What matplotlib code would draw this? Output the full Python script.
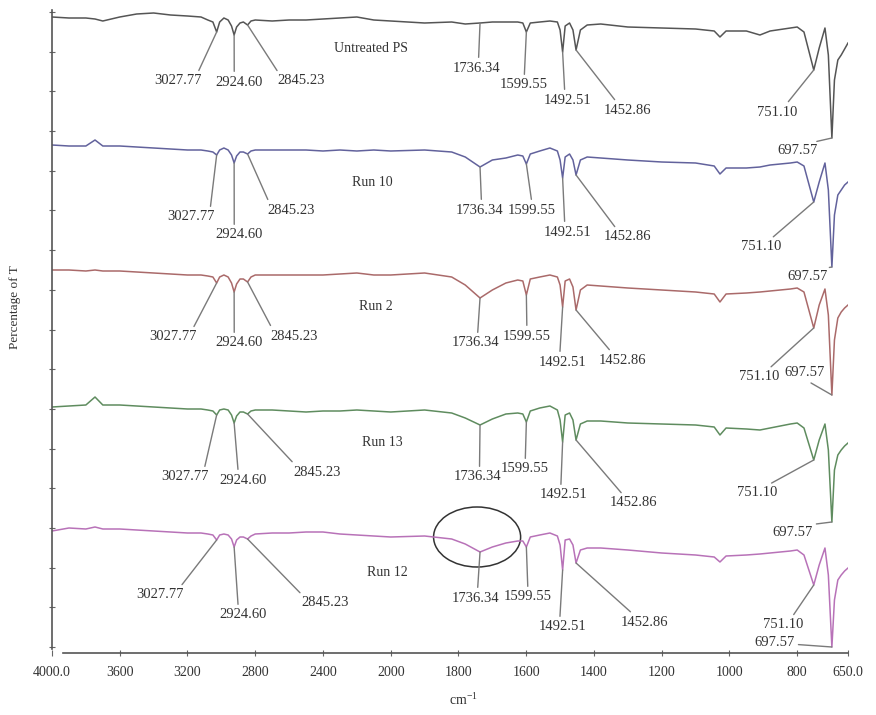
import matplotlib
matplotlib.use('Agg')
import matplotlib.pyplot as plt
from matplotlib.patches import Ellipse
import numpy as np

plt.rcParams['font.family'] = ['Liberation Serif', 'DejaVu Serif']

# ---- data (wavenumber in cm-1, T in arbitrary stacked units) ----
WAVENUMBER = [4000, 3900, 3800, 3746, 3700, 3600, 3500, 3400, 3300, 3200,
              3120, 3080, 3050, 3027.77, 3010, 2985, 2960, 2940, 2924.60, 2910,
              2890, 2870, 2845.23, 2825, 2800, 2700, 2600, 2500, 2400, 2300,
              2200, 2100, 2000, 1900, 1820, 1780, 1736.34, 1700, 1660, 1625,
              1610, 1599.55, 1588, 1560, 1530, 1508, 1500, 1492.51, 1485, 1472,
              1462, 1452.86, 1440, 1420, 1380, 1300, 1200, 1100, 1045, 1028,
              1010, 950, 910, 880, 820, 800, 780, 751.10, 735, 718,
              708, 697.57, 690, 680, 670, 660, 650]

T_UNTREATED = [636, 635, 635, 634, 632, 636, 639, 640, 638, 637,
               636, 633, 631, 621, 631, 635, 633, 627, 618, 626,
               630, 631, 628, 632, 633, 632, 633, 633, 634, 635,
               636, 633, 632, 630, 631, 629, 630, 631, 631, 631,
               630, 621, 630, 631, 632, 631, 623, 601, 627, 630,
               623, 603, 623, 628, 629, 626, 625, 624, 622, 616,
               622, 622, 618, 622, 625, 626, 621, 583, 605, 625,
               598, 515, 573, 593, 598, 604, 610]

T_RUN10 = [508, 507, 507, 513, 507, 507, 506, 505, 504, 503,
           503, 502, 501, 498, 503, 505, 503, 498, 490, 497,
           501, 501, 499, 502, 503, 503, 503, 503, 502, 503,
           502, 503, 502, 503, 501, 496, 486, 493, 495, 498,
           497, 489, 499, 502, 505, 502, 493, 475, 496, 499,
           493, 478, 493, 496, 495, 493, 491, 490, 487, 479,
           485, 485, 486, 488, 490, 491, 487, 451, 471, 490,
           463, 386, 438, 458, 463, 468, 471]

T_RUN2 = [383, 383, 382, 383, 382, 382, 381, 380, 379, 378,
          378, 377, 376, 370, 376, 378, 376, 370, 361, 369,
          374, 374, 371, 376, 378, 378, 378, 378, 378, 379,
          380, 378, 378, 380, 376, 368, 355, 363, 370, 373,
          372, 358, 374, 376, 378, 376, 368, 346, 372, 374,
          366, 343, 363, 368, 367, 365, 363, 361, 359, 351,
          359, 360, 361, 362, 364, 365, 361, 325, 348, 364,
          338, 258, 313, 335, 341, 345, 348]

T_RUN13 = [246, 247, 248, 256, 248, 248, 247, 246, 245, 244,
           244, 243, 242, 238, 243, 244, 243, 238, 230, 237,
           241, 241, 239, 242, 243, 243, 242, 241, 242, 242,
           243, 242, 241, 243, 240, 235, 228, 234, 239, 240,
           239, 231, 242, 245, 247, 243, 233, 211, 238, 240,
           233, 213, 229, 232, 232, 230, 229, 228, 226, 218,
           225, 224, 223, 225, 229, 230, 225, 193, 213, 229,
           203, 131, 183, 198, 203, 207, 210]

T_RUN12 = [122, 125, 124, 126, 124, 124, 123, 122, 121, 120,
           120, 119, 118, 113, 118, 119, 118, 114, 106, 113,
           116, 116, 114, 117, 119, 120, 120, 121, 121, 119,
           118, 117, 116, 117, 114, 109, 101, 106, 110, 112,
           112, 106, 116, 118, 120, 117, 108, 83, 113, 114,
           108, 90, 103, 105, 105, 103, 100, 98, 96, 91,
           97, 98, 99, 100, 102, 103, 98, 68, 88, 105,
           78, 6, 53, 73, 78, 82, 85]

SAMPLES = ['Untreated PS', 'Run 10', 'Run 2', 'Run 13', 'Run 12']
SPECTRA = [T_UNTREATED, T_RUN10, T_RUN2, T_RUN13, T_RUN12]
PEAKS = [3027.77, 2924.60, 2845.23, 1736.34, 1599.55, 1492.51, 1452.86, 751.10, 697.57]
PEAK_LABELS = ['3027.77', '2924.60', '2845.23', '1736.34', '1599.55',
               '1492.51', '1452.86', '751.10', '697.57']

X_TICKS = [4000, 3600, 3200, 2800, 2400, 2000, 1800, 1600, 1400, 1200, 1000, 800, 650]
X_TICK_LABELS = ['4000.0', '3600', '3200', '2800', '2400', '2000', '1800', '1600',
                 '1400', '1200', '1000', '800', '650.0']

# ---- layout: label positions (wavenumber, T) for each peak of each trace ----
COLORS = ['#555555', '#62629c', '#aa6a6a', '#5f8c5f', '#b872b8']
NAME_POS = [(2116, 605), (2110, 471), (2087, 346), (2051, 211), (2022, 80)]
LABEL_POS = [
    [(3256, 572), (2896, 571), (2530, 572), (1748, 585), (1606, 568),
     (1479, 553), (1302, 543), (859, 541), (800, 502)],
    [(3179, 436), (2896, 418), (2589, 443), (1739, 443), (1583, 443),
     (1479, 421), (1302, 416), (907, 406), (771, 376)],
    [(3286, 316), (2896, 310), (2571, 317), (1751, 310), (1598, 317),
     (1494, 291), (1317, 293), (913, 276), (777, 280)],
    [(3215, 176), (2872, 173), (2435, 181), (1745, 176), (1603, 184),
     (1491, 158), (1282, 150), (918, 160), (815, 121)],
    [(3362, 58), (2872, 38), (2388, 50), (1751, 55), (1595, 56),
     (1494, 26), (1252, 31), (842, 28), (868, 10)],
]
# where each leader line meets its label (fraction of the text box)
RELPOS = [(0.9, 1.0), (0.4, 1.0), (0.05, 1.0), (0.55, 1.0), (0.5, 1.0),
          (0.45, 1.0), (0.3, 1.0), (0.7, 1.0), None]
RELPOS_697 = [(0.65, 1.0), (0.65, 1.0), (0.5, 0.0), (0.8, 1.0), (1.0, 0.4)]


# x axis is expanded 2x below 2000 cm-1, like the instrument printout
def fwd(w):
    w = np.asarray(w, dtype=float)
    return np.where(w >= 2000, w, 2 * w - 2000)


def inv(u):
    u = np.asarray(u, dtype=float)
    return np.where(u >= 2000, u, (u + 2000) / 2)


fig = plt.figure(figsize=(8.76, 7.15), dpi=100)
ax = fig.add_axes([52 / 876, 62 / 715, 796 / 876, 645 / 715])
ax.set_xscale('function', functions=(fwd, inv))
ax.set_xlim(4000, 650)
ax.set_ylim(0, 645)

txt_c = '#333333'
lead_c = '#7a7a7a'

for i, (name, spec) in enumerate(zip(SAMPLES, SPECTRA)):
    ax.plot(WAVENUMBER, spec, color=COLORS[i], lw=1.1)
    ax.text(NAME_POS[i][0], NAME_POS[i][1], name, ha='center', va='center',
            fontsize=10, color=txt_c)
    for k, (pk, lab, pos) in enumerate(zip(PEAKS, PEAK_LABELS, LABEL_POS[i])):
        y_pk = spec[WAVENUMBER.index(pk)]
        rp = RELPOS[k] if RELPOS[k] is not None else RELPOS_697[i]
        ax.annotate(lab, xy=(pk, y_pk), xytext=pos, textcoords='data',
                    ha='center', va='center', fontsize=10.5, color=txt_c,
                    arrowprops=dict(arrowstyle='-', color=lead_c, lw=1.0,
                                    relpos=rp, shrinkA=1, shrinkB=0))

# circle round the 1736 band of Run 12
ax.add_patch(Ellipse((1745, 116), width=257, height=60, fill=False,
                     edgecolor='#333333', lw=1.1))

ax.set_xticks(X_TICKS)
ax.set_xticklabels(X_TICK_LABELS)
ax.set_yticks(np.linspace(6, 641, 17))
ax.set_yticklabels([])
ax.tick_params(axis='both', direction='inout', length=4, width=0.8,
               color='#666666', labelsize=10, labelcolor=txt_c)
ax.tick_params(axis='x', pad=7)

for s in ['top', 'right']:
    ax.spines[s].set_visible(False)
ax.spines['left'].set_bounds(4, 643)
ax.spines['bottom'].set_bounds(3935, 650)
for s in ['left', 'bottom']:
    ax.spines[s].set_color('#555555')
    ax.spines[s].set_linewidth(1.2)

fig.text(15 / 876, 1 - 307 / 715, 'Percentage of T', rotation=90,
         ha='center', va='center', fontsize=9.5, color=txt_c)
fig.text(463 / 876, 1 - 700 / 715, 'cm$^{\\mathregular{-1}}$',
         ha='center', va='center', fontsize=10, color=txt_c)

fig.savefig('out.png', dpi=100, facecolor='white')
